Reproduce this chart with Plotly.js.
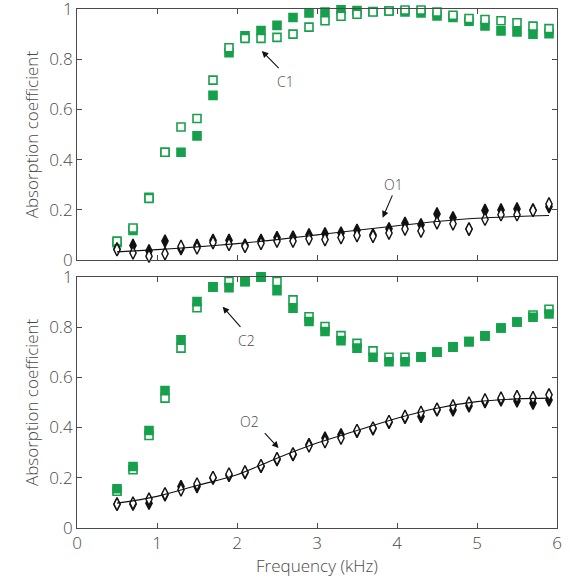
<!DOCTYPE html>
<html><head><meta charset="utf-8">
<script src="https://cdn.plot.ly/plotly-3.0.1.min.js"></script>
<style>html,body{margin:0;padding:0;background:#fff}#chart{width:570px;height:582px}</style>
</head><body><div id="chart"></div>
<script>
const freq = [0.5,0.7,0.9,1.1,1.3,1.5,1.7,1.9,2.1,2.3,2.5,2.7,2.9,3.1,3.3,3.5,3.7,3.9,4.1,4.3,4.5,4.7,4.9,5.1,5.3,5.5,5.7,5.9];
const c1Open = [0.076,0.128,0.246,0.430,0.530,0.564,0.717,0.846,0.883,0.883,0.887,0.900,0.928,0.953,0.971,0.979,0.988,0.992,0.996,0.996,0.988,0.975,0.962,0.958,0.953,0.945,0.932,0.922];
const c1Fill = [0.070,0.118,0.250,0.430,0.430,0.495,0.656,0.826,0.893,0.914,0.935,0.966,0.984,0.988,0.997,0.994,0.990,0.992,0.988,0.984,0.972,0.966,0.951,0.933,0.913,0.909,0.900,0.902];
const o1Fill = [0.045,0.059,0.037,0.076,0.046,0.059,0.079,0.079,0.060,0.079,0.090,0.092,0.101,0.105,0.108,0.119,0.101,0.125,0.147,0.141,0.184,0.169,0.124,0.198,0.200,0.204,0.200,0.213];
const o1Open = [0.042,0.029,0.016,0.026,0.055,0.049,0.070,0.063,0.055,0.067,0.076,0.076,0.085,0.082,0.090,0.098,0.095,0.108,0.124,0.116,0.149,0.145,0.124,0.163,0.181,0.181,0.198,0.224];
const c2Open = [0.146,0.232,0.368,0.517,0.716,0.877,0.960,0.981,0.980,1.000,0.981,0.908,0.841,0.802,0.766,0.735,0.705,0.680,0.680,0.680,0.700,0.720,0.742,0.765,0.796,0.820,0.848,0.871];
const c2Fill = [0.156,0.245,0.388,0.547,0.749,0.901,0.959,0.957,0.981,0.998,0.945,0.875,0.822,0.782,0.746,0.716,0.680,0.662,0.662,0.682,0.700,0.721,0.742,0.765,0.796,0.820,0.839,0.852];
const o2Open = [0.095,0.099,0.115,0.136,0.152,0.175,0.201,0.215,0.223,0.248,0.276,0.295,0.327,0.344,0.358,0.388,0.398,0.424,0.444,0.460,0.473,0.486,0.497,0.510,0.517,0.523,0.519,0.530];
const o2Fill = [0.095,0.095,0.099,0.132,0.165,0.165,0.199,0.209,0.220,0.245,0.272,0.292,0.332,0.358,0.371,0.385,0.395,0.420,0.440,0.444,0.470,0.470,0.486,0.503,0.510,0.506,0.497,0.510];
const lineX = [0.5,1,1.5,2,2.5,3,3.5,4,4.5,5,5.5,5.9];
const o1Line = [0.033,0.042,0.053,0.066,0.082,0.101,0.119,0.137,0.154,0.167,0.174,0.178];
const o2Line = [0.099,0.126,0.169,0.212,0.278,0.338,0.388,0.437,0.477,0.503,0.514,0.517];
const xTicks = [0,1,2,3,4,5,6];
const yTicks = [0,0.2,0.4,0.6,0.8,1];
const yTickText = ['0','0.2','0.4','0.6','0.8','1'];

const green = '#16a04c';
const gray = '#4a4a4a';
const FONT = 'Open Sans, Noto Sans, sans-serif';

function sq(y, filled, ya) {
  return {x: freq, y: y, xaxis: ya==='y'?'x':'x2', yaxis: ya, mode:'markers', type:'scatter', cliponaxis:false,
    marker:{symbol:'square', size:8, color: filled?green:'#fff', line:{color:green, width:1.6}}, hoverinfo:'skip'};
}
function dm(y, filled, ya) {
  return {x: freq, y: y, xaxis: ya==='y'?'x':'x2', yaxis: ya, mode:'markers', type:'scatter', cliponaxis:false,
    marker:{symbol:'diamond-tall', size:9, color: filled?'#111':'#fff', line:{color:'#111', width:1.4}}, hoverinfo:'skip'};
}
function ln(y, ya) {
  return {x: lineX, y: y, xaxis: ya==='y'?'x':'x2', yaxis: ya, mode:'lines', type:'scatter',
    line:{color:'#111', width:1.1, shape:'spline'}, hoverinfo:'skip'};
}

const data = [
  sq(c1Fill, true, 'y'), sq(c1Open, false, 'y'),
  dm(o1Fill, true, 'y'), dm(o1Open, false, 'y'), ln(o1Line, 'y'),
  sq(c2Open, false, 'y2'), sq(c2Fill, true, 'y2'),
  dm(o2Fill, true, 'y2'), dm(o2Open, false, 'y2'), ln(o2Line, 'y2')
];

const tf = {family:FONT, size:17, color:gray, weight:300};
const axBase = {
  range:[0,6], tickvals: xTicks, ticks:'inside', ticklen:5, tickcolor:gray, tickwidth:1,
  showline:true, mirror:'ticks', linecolor:gray, linewidth:1, showgrid:false, zeroline:false,
  tickfont:tf, ticklabeloverflow:'allow'
};
const yBase = {
  range:[0,1], tickvals: yTicks, ticktext: yTickText, ticks:'inside', ticklen:5, tickcolor:gray, tickwidth:1,
  showline:true, mirror:'ticks', linecolor:gray, linewidth:1, showgrid:false, zeroline:false,
  tickfont:tf, ticklabeloverflow:'allow',
  title:{text:'Absorption coefficient', font:tf, standoff:6}
};

function arrow(x, y, ax, ay, xr, yr) {
  return {x:x, y:y, ax:ax, ay:ay, xref:xr, yref:yr, axref:xr, ayref:yr, text:'', showarrow:true,
    arrowhead:2, arrowsize:1.2, arrowwidth:1.1, arrowcolor:'#111', standoff:0, startstandoff:0};
}
function label(x, y, t, xr, yr) {
  return {x:x, y:y, xref:xr, yref:yr, text:t, showarrow:false, font:{family:FONT, size:14, color:gray, weight:300}};
}

const layout = {
  width:570, height:582, showlegend:false,
  paper_bgcolor:'#fff', plot_bgcolor:'#fff',
  margin:{l:77, r:13, t:9, b:54},
  xaxis: Object.assign({}, axBase, {anchor:'y', showticklabels:false}),
  yaxis: Object.assign({}, yBase, {domain:[0.516,1], anchor:'x'}),
  xaxis2: Object.assign({}, axBase, {anchor:'y2', title:{text:'Frequency (kHz)', font:tf, standoff:4}}),
  yaxis2: Object.assign({}, yBase, {domain:[0,0.484], anchor:'x2'}),
  annotations:[
    arrow(2.31, 0.833, 2.54, 0.759, 'x', 'y'), label(2.60, 0.712, 'C1', 'x', 'y'),
    arrow(3.82, 0.169, 3.95, 0.264, 'x', 'y'), label(3.96, 0.303, 'O1', 'x', 'y'),
    arrow(1.82, 0.881, 2.06, 0.795, 'x2', 'y2'), label(2.12, 0.745, 'C2', 'x2', 'y2'),
    arrow(2.52, 0.318, 2.33, 0.384, 'x2', 'y2'), label(2.16, 0.424, 'O2', 'x2', 'y2')
  ]
};

Plotly.newPlot('chart', data, layout, {staticPlot:true, displayModeBar:false});
</script>
</body></html>
